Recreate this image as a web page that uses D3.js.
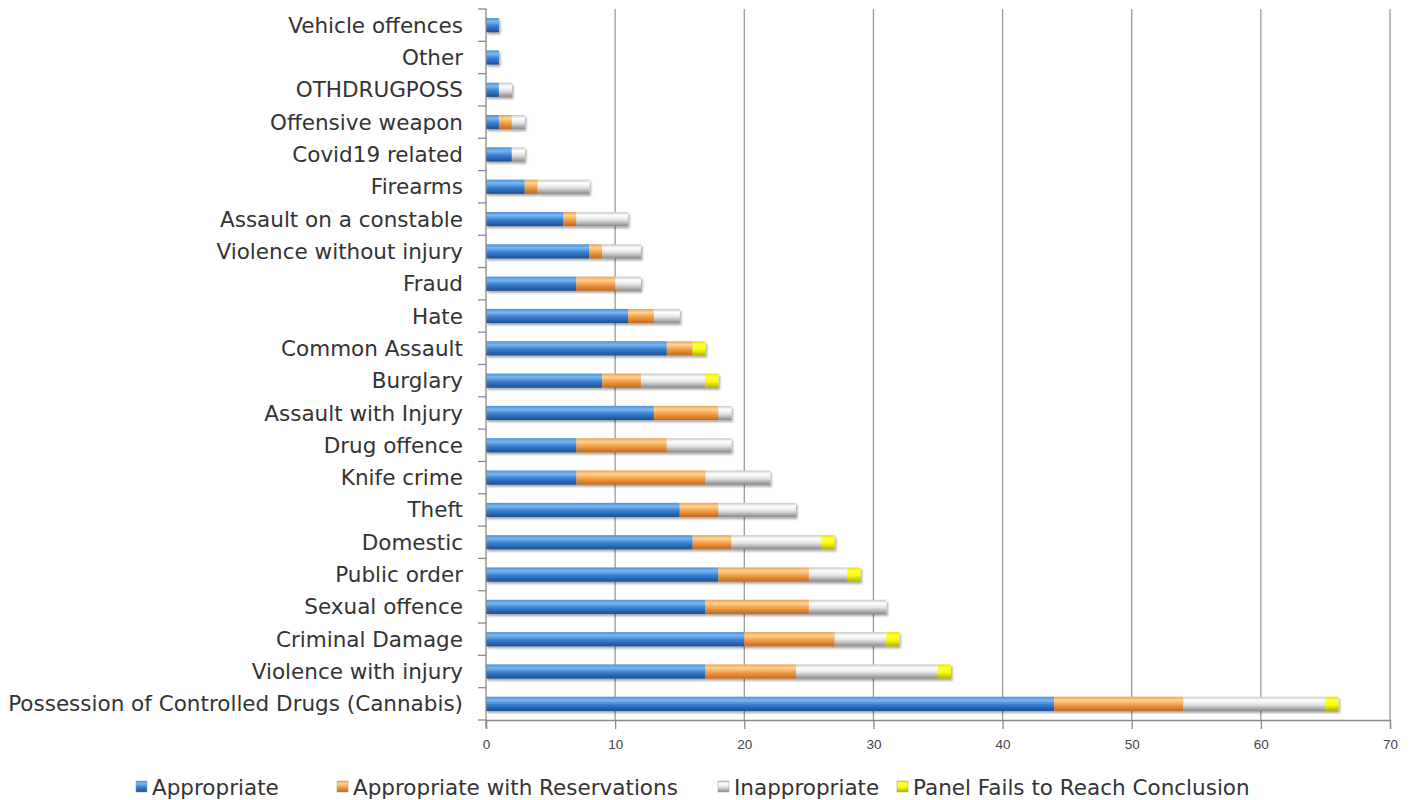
<!DOCTYPE html>
<html>
<head>
<meta charset="utf-8">
<script src="https://cdn.jsdelivr.net/npm/d3@7"></script>
<style>
  body { margin: 0; background: #fff; }
  svg { display: block; font-family: "DejaVu Sans", Verdana, sans-serif; }
</style>
</head>
<body>
<svg id="chart" width="1418" height="800"></svg>
<script>
const categories = [
  "Vehicle offences", "Other", "OTHDRUGPOSS", "Offensive weapon", "Covid19 related",
  "Firearms", "Assault on a constable", "Violence without injury", "Fraud", "Hate",
  "Common Assault", "Burglary", "Assault with Injury", "Drug offence", "Knife crime",
  "Theft", "Domestic", "Public order", "Sexual offence", "Criminal Damage",
  "Violence with injury", "Possession of Controlled Drugs (Cannabis)"
];
const appropriate     = [1, 1, 1, 1, 2, 3, 6, 8, 7, 11, 14, 9, 13, 7, 7, 15, 16, 18, 17, 20, 17, 44];
const withReservations = [0, 0, 0, 1, 0, 1, 1, 1, 3, 2, 2, 3, 5, 7, 10, 3, 3, 7, 8, 7, 7, 10];
const inappropriate   = [0, 0, 1, 1, 1, 4, 4, 3, 2, 2, 0, 5, 1, 5, 5, 6, 7, 3, 6, 4, 11, 11];
const panelFails      = [0, 0, 0, 0, 0, 0, 0, 0, 0, 0, 1, 1, 0, 0, 0, 0, 1, 1, 0, 1, 1, 1];
const seriesNames = ["Appropriate", "Appropriate with Reservations", "Inappropriate", "Panel Fails to Reach Conclusion"];
const xTicks = [0, 10, 20, 30, 40, 50, 60, 70];

const keys = ["a", "r", "i", "p"];
const rows = categories.map((c, i) => ({
  cat: c, a: appropriate[i], r: withReservations[i], i: inappropriate[i], p: panelFails[i]
}));

const svg = d3.select("#chart");
const plotLeft = 486, plotRight = 1390, plotTop = 9, plotBottom = 720;

const x = d3.scaleLinear().domain([0, 70]).range([plotLeft, plotRight]);
const y = d3.scaleBand().domain(categories).range([plotTop, plotBottom]).paddingInner(0.56).paddingOuter(0.28);

// gradients for the glossy bar look
const defs = svg.append("defs");
const grads = {
  a: [["0%", "#4f8fd8"], ["25%", "#7ab8f2"], ["55%", "#3a7fd0"], ["100%", "#1c4f94"]],
  r: [["0%", "#f0a050"], ["25%", "#ffd392"], ["55%", "#f3a04a"], ["100%", "#c2681e"]],
  i: [["0%", "#c8c8c8"], ["25%", "#ffffff"], ["55%", "#e4e4e4"], ["100%", "#8a8a8a"]],
  p: [["0%", "#e6e600"], ["25%", "#ffff40"], ["55%", "#ffff00"], ["100%", "#b0b000"]]
};
keys.forEach(k => {
  const g = defs.append("linearGradient").attr("id", "g-" + k)
    .attr("x1", 0).attr("y1", 0).attr("x2", 0).attr("y2", 1);
  grads[k].forEach(s => g.append("stop").attr("offset", s[0]).attr("stop-color", s[1]));
});
const f = defs.append("filter").attr("id", "shadow").attr("x", "-5%").attr("y", "-30%").attr("width", "120%").attr("height", "180%");
f.append("feDropShadow").attr("dx", 1.5).attr("dy", 2).attr("stdDeviation", 1.2)
  .attr("flood-color", "#000").attr("flood-opacity", 0.35);

// vertical gridlines
svg.append("g").selectAll("line")
  .data(xTicks.slice(1))
  .join("line")
  .attr("x1", d => x(d)).attr("x2", d => x(d))
  .attr("y1", plotTop).attr("y2", plotBottom)
  .attr("stroke", "#9a9a9a").attr("stroke-width", 1.3);

// stacked bars
const stack = d3.stack().keys(keys)(rows);
const barG = svg.append("g").attr("filter", "url(#shadow)");
stack.forEach(layer => {
  barG.append("g").selectAll("rect")
    .data(layer.filter(d => d[1] > d[0]))
    .join("rect")
    .attr("x", d => x(d[0]))
    .attr("y", d => y(d.data.cat))
    .attr("width", d => x(d[1]) - x(d[0]))
    .attr("height", y.bandwidth())
    .attr("fill", "url(#g-" + layer.key + ")");
});

// bottom axis
const xAxis = svg.append("g")
  .attr("transform", `translate(0,${plotBottom})`)
  .call(d3.axisBottom(x).tickValues(xTicks).tickSize(9).tickPadding(10));
xAxis.select(".domain").attr("stroke", "#8a8a8a").attr("stroke-width", 1.3);
xAxis.selectAll(".tick line").attr("stroke", "#8a8a8a").attr("stroke-width", 1.3);
xAxis.selectAll("text").attr("font-size", 13.5).attr("fill", "#444");

// left axis line with ticks between categories
const yAxisG = svg.append("g");
yAxisG.append("line").attr("x1", plotLeft).attr("x2", plotLeft).attr("y1", plotTop).attr("y2", plotBottom + 8)
  .attr("stroke", "#8a8a8a").attr("stroke-width", 1.3);
const bounds = d3.range(categories.length + 1).map(i => plotTop + i * (plotBottom - plotTop) / categories.length);
yAxisG.selectAll("line.tk").data(bounds).join("line").attr("class", "tk")
  .attr("x1", plotLeft - 8).attr("x2", plotLeft)
  .attr("y1", d => d).attr("y2", d => d)
  .attr("stroke", "#8a8a8a").attr("stroke-width", 1.3);
yAxisG.selectAll("text").data(categories).join("text")
  .attr("x", plotLeft - 23)
  .attr("y", d => y(d) + y.bandwidth() / 2)
  .attr("dy", "0.35em")
  .attr("text-anchor", "end")
  .attr("font-size", 21.5)
  .attr("fill", "#333")
  .text(d => d);

// legend
const legendX = [136, 337, 718, 897];
const legend = svg.append("g").attr("transform", "translate(0,787)");
seriesNames.forEach((name, i) => {
  const g = legend.append("g").attr("transform", `translate(${legendX[i]},0)`);
  g.append("rect").attr("x", 0).attr("y", -6).attr("width", 11).attr("height", 11)
    .attr("fill", "url(#g-" + keys[i] + ")").attr("stroke", "#999").attr("stroke-width", 0.5);
  g.append("text").attr("x", 16).attr("y", 0).attr("dy", "0.35em")
    .attr("font-size", 21.5).attr("fill", "#333").text(name);
});
</script>
</body>
</html>
